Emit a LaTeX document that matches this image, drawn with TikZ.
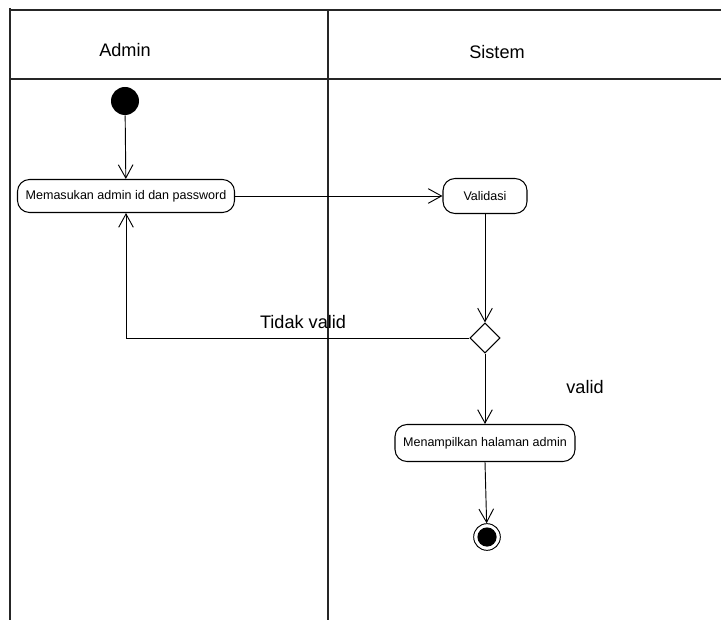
\documentclass[tikz,border=0pt]{standalone}
\usepackage{fontspec}
\setmainfont{Liberation Sans}
\usetikzlibrary{arrows.meta,shapes.geometric}
\begin{document}
\begin{tikzpicture}[x=0.75pt,y=-0.75pt,
  lane/.style={line width=1.1pt, draw=black!85},
  act/.style={draw, line width=0.8pt, rounded corners=9pt, inner sep=0pt,
    font=\fontsize{9.4pt}{11pt}\selectfont},
  lbl/.style={font=\fontsize{13.6pt}{16pt}\selectfont, inner sep=0pt},
  flow/.style={draw, line width=0.7pt, -{Straight Barb[length=10pt,width=11pt,line width=0.7pt]}},
  decision/.style={draw, diamond, aspect=1, minimum size=22.5pt, inner sep=0pt, line width=0.8pt},
  startnode/.style={circle, fill=black, minimum size=21pt, inner sep=0pt},
  endnode/.style={circle, draw, line width=0.7pt, minimum size=20pt, inner sep=0pt,
    path picture={\fill (path picture bounding box.center) circle (7.2pt);}}]
  \useasboundingbox (0,0) rectangle (721,620);

  % swimlane frame
  \draw[lane] (10,8) -- (10,620);
  \draw[lane] (10,10) -- (721,10);
  \draw[lane] (10,79) -- (721,79);
  \draw[lane] (328,10) -- (328,620);

  % lane headers
  \node[lbl] (hAdmin) at (125,50) {Admin};
  \node[lbl] (hSistem) at (497,52) {Sistem};

  % activity nodes
  \node[startnode] (start) at (125,101) {};
  \node[act, minimum width=162.75pt, minimum height=24.75pt] (login) at (126,196) {Memasukan admin id dan password};
  \node[act, minimum width=63pt, minimum height=26.25pt] (valid) at (485,196) {Validasi};
  \node[decision] (dec) at (485,338) {};
  \node[act, minimum width=135pt, minimum height=27.75pt] (home) at (485,443) {Menampilkan halaman admin};
  \node[endnode] (stop) at (487,537) {};

  % guard labels
  \node[lbl] (tNo) at (303,322) {Tidak valid};
  \node[lbl] (tYes) at (585,387) {valid};

  % control flows
  \draw[flow] (start) -- (login);
  \draw[flow] (login) -- (valid);
  \draw[flow] (valid) -- (dec);
  \draw[flow] (dec.west) -| (login.south);
  \draw[flow] (dec) -- (home);
  \draw[flow] (home.south) -- (stop);
\end{tikzpicture}
\end{document}
